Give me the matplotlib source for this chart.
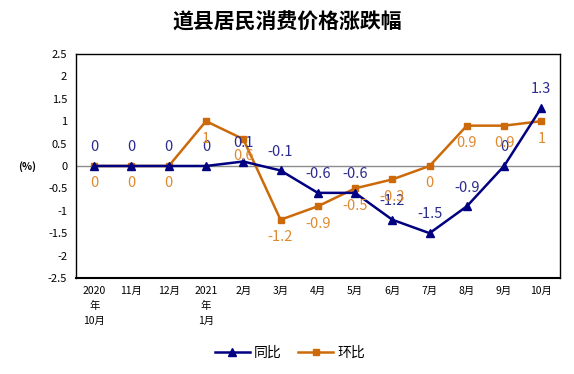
import matplotlib.pyplot as plt

plt.rcParams['font.family'] = ['Noto Sans CJK SC', 'DejaVu Sans']

months = ["2020\n年\n10月", "11月", "12月", "2021\n年\n1月", "2月", "3月", "4月",
          "5月", "6月", "7月", "8月", "9月", "10月"]
yoy = [0, 0, 0, 0, 0.1, -0.1, -0.6, -0.6, -1.2, -1.5, -0.9, 0, 1.3]
mom = [0, 0, 0, 1, 0.6, -1.2, -0.9, -0.5, -0.3, 0, 0.9, 0.9, 1]
yticks = [2.5, 2, 1.5, 1, 0.5, 0, -0.5, -1, -1.5, -2, -2.5]

navy = '#000080'
orange = '#CC6A0A'

fig = plt.figure(figsize=(5.74, 3.74), dpi=100)
ax = fig.add_axes([0.1317, 0.2567, 0.8439, 0.599])
x = list(range(len(months)))

ax.axhline(0, color='#8c8c8c', lw=1, zorder=1)
ax.plot(x, yoy, color=navy, lw=1.8, marker='^', ms=5.5, label='同比', zorder=3)
ax.plot(x, mom, color=orange, lw=1.8, marker='s', ms=4.5, label='环比', zorder=2)

for i in x:
    ax.annotate(f"{yoy[i]:g}", (i, yoy[i]), xytext=(0, 13.5), textcoords='offset points',
                ha='center', va='center', fontsize=10.5, color='#2b2b8f')
    ax.annotate(f"{mom[i]:g}", (i, mom[i]), xytext=(0, -12.5), textcoords='offset points',
                ha='center', va='center', fontsize=10.5, color='#E08A30')

ax.set_xlim(-0.5, len(months) - 0.5)
ax.set_ylim(-2.5, 2.5)
ax.set_xticks(x)
ax.set_xticklabels(months, fontsize=7.5, linespacing=1.6)
ax.set_yticks(yticks)
ax.set_yticklabels([f"{v:g}" for v in yticks], fontsize=8)
ax.tick_params(length=0, pad=6)
for s in ax.spines.values():
    s.set_color('black')
    s.set_linewidth(1)
ax.spines['bottom'].set_linewidth(1.5)

fig.text(0.047, 1 - 167 / 374, '(%)', fontsize=7.5, fontweight='bold', ha='center', va='center')
fig.text(0.5, 1 - 22 / 374, '道县居民消费价格涨跌幅', fontsize=15, fontweight='bold',
         ha='center', va='center')

fig.legend(loc='center', bbox_to_anchor=(0.505, 1 - 353 / 374), ncol=2, frameon=False,
           fontsize=10, handlelength=2.5, columnspacing=1.2, handletextpad=0.3)

fig.savefig('out.png', dpi=100)
